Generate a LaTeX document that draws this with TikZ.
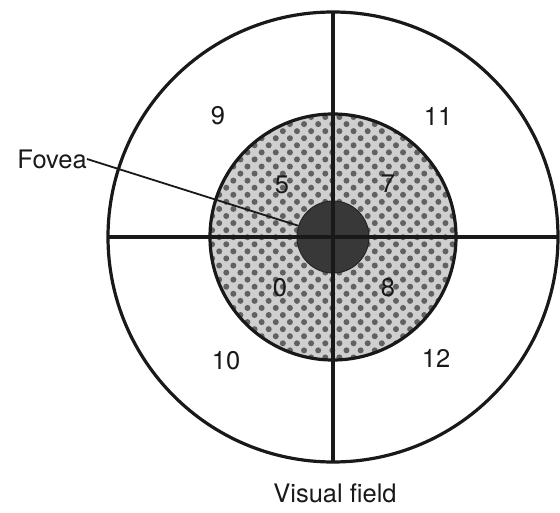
\documentclass[tikz,border=0pt]{standalone}
\usepackage{fontspec}
\setmainfont{TeX Gyre Heros}
\usetikzlibrary{patterns.meta,calc}
\tikzset{
  ring/.style={line width=3.2pt, draw=black!90},
  crossline/.style={line width=3.2pt, draw=black!90},
  lbl/.style={font=\fontsize{25.5}{30}\selectfont, text=black!90, inner sep=0pt},
  leader/.style={line width=1.8pt, draw=black!90}
}
\begin{document}
\begin{tikzpicture}[x=1pt,y=-1pt]
\useasboundingbox (0,0) rectangle (560,513);
\coordinate (c) at (333,237);
% outer field
\draw[ring, fill=white] (c) circle (225);
% stippled annulus
\fill[gray!38] (c) circle (123);
\fill[pattern={Dots[distance=10pt, radius=3pt, angle=45]}, pattern color=black!62] (c) circle (123);
\draw[ring] (c) circle (123);
% fovea
\node[circle, minimum size=72pt, inner sep=0pt, fill=black!78, draw=black!85, line width=1pt] (fov) at (c) {};
% cross lines
\coordinate (top) at ($(c)+(0,-225)$);
\coordinate (bot) at ($(c)+(0,225)$);
\coordinate (lft) at ($(c)+(-225,0)$);
\coordinate (rgt) at ($(c)+(225,0)$);
\draw[crossline] (top) -- (bot);
\draw[crossline] (lft) -- (rgt);
% labels
\node[lbl] (n9) at (218,116) {9};
\node[lbl] (n11) at (438,116) {11};
\node[lbl] (n5) at (282,185) {5};
\node[lbl] (n7) at (388,184) {7};
\node[lbl] (n0) at (280,288) {0};
\node[lbl] (n8) at (388,288) {8};
\node[lbl] (n10) at (226,361) {10};
\node[lbl] (n12) at (436,358) {12};
\node[lbl, anchor=east] (fovlabel) at (87,159) {Fovea};
\node[lbl] (vf) at (335,493) {Visual field};
\draw[leader] (fovlabel.east) -- (fov.162);
\end{tikzpicture}
\end{document}
